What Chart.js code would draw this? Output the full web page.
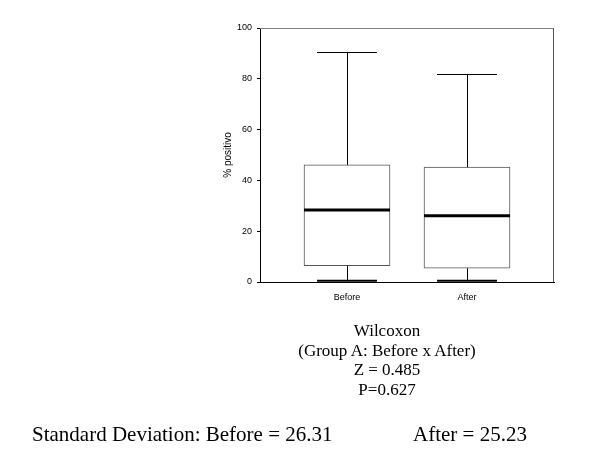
<!DOCTYPE html>
<html>
<head>
<meta charset="utf-8">
<script src="https://cdn.jsdelivr.net/npm/chart.js@4/dist/chart.umd.min.js"></script>
<style>
    body { margin: 0; background: #fff; }
    #wrap { position: relative; width: 600px; height: 465px; }
    .note { position: absolute; font-family: "Liberation Serif", "Times New Roman", serif; color: #000; white-space: pre; }
    #wilcoxon { left: 287px; top: 321px; width: 200px; text-align: center; font-size: 17px; line-height: 19.5px; }
    .sd { top: 424px; font-size: 21px; line-height: 21px; }
</style>
</head>
<body>
<div id="wrap">
    <canvas id="boxChart"></canvas>
    <div id="wilcoxon" class="note">Wilcoxon
(Group A: Before x After)
Z = 0.485
P=0.627</div>
    <div class="note sd" style="left:32px">Standard Deviation: Before = 26.31</div>
    <div class="note sd" style="left:413px">After = 25.23</div>
</div>
<script>
const categories = ['Before', 'After'];
const whiskerLow = [0.5, 0.5];
const quartile1 = [6.4, 5.4];
const medians = [28.3, 26.1];
const quartile3 = [46.1, 45.2];
const whiskerHigh = [90.6, 81.9];
const yTicks = [0, 20, 40, 60, 80, 100];

// draws median, whiskers, caps and the grey frame
const boxExtras = {
    id: 'boxExtras',
    afterDatasetsDraw(chart) {
        const { ctx, chartArea, scales: { x, y } } = chart;
        const bars = chart.getDatasetMeta(0).data;
        ctx.save();
        ctx.strokeStyle = '#000';
        categories.forEach((c, i) => {
            const cx = Math.round(x.getPixelForValue(i + 1)) + 0.5;
            const capL = x.getPixelForValue(i + 1 - 0.25);
            const capR = x.getPixelForValue(i + 1 + 0.25);
            ctx.lineWidth = 1;
            ctx.beginPath();
            ctx.moveTo(cx, y.getPixelForValue(quartile3[i]));
            ctx.lineTo(cx, y.getPixelForValue(whiskerHigh[i]));
            ctx.moveTo(cx, y.getPixelForValue(quartile1[i]));
            ctx.lineTo(cx, y.getPixelForValue(whiskerLow[i]));
            ctx.stroke();
            ctx.beginPath();
            ctx.moveTo(capL, Math.round(y.getPixelForValue(whiskerHigh[i])) + 0.5);
            ctx.lineTo(capR, Math.round(y.getPixelForValue(whiskerHigh[i])) + 0.5);
            ctx.stroke();
            ctx.lineWidth = 2;
            ctx.beginPath();
            ctx.moveTo(capL, y.getPixelForValue(whiskerLow[i]));
            ctx.lineTo(capR, y.getPixelForValue(whiskerLow[i]));
            ctx.stroke();
            const bar = bars[i];
            ctx.lineWidth = 3;
            ctx.beginPath();
            ctx.moveTo(bar.x - bar.width / 2, y.getPixelForValue(medians[i]));
            ctx.lineTo(bar.x + bar.width / 2, y.getPixelForValue(medians[i]));
            ctx.stroke();
        });
        ctx.lineWidth = 1;
        ctx.strokeStyle = '#808080';
        ctx.beginPath();
        ctx.moveTo(chartArea.left, chartArea.top + 0.5);
        ctx.lineTo(chartArea.right, chartArea.top + 0.5);
        ctx.stroke();
        ctx.strokeStyle = '#555';
        ctx.beginPath();
        ctx.moveTo(chartArea.right - 0.5, chartArea.top);
        ctx.lineTo(chartArea.right - 0.5, chartArea.bottom);
        ctx.stroke();
        ctx.restore();
    }
};

const ctx = document.getElementById('boxChart').getContext('2d');
const boxChart = new Chart(ctx, {
    type: 'bar',
    data: {
        datasets: [{
            data: categories.map((c, i) => ({ x: i + 1, y: [quartile1[i], quartile3[i]] })),
            backgroundColor: '#fff',
            borderColor: '#555',
            borderWidth: 1,
            borderSkipped: false,
            barThickness: 86
        }]
    },
    options: {
        responsive: true,
        maintainAspectRatio: false,
        animation: false,
        layout: { padding: { left: 218, right: 46, top: 28, bottom: 153 } },
        plugins: { legend: { display: false }, tooltip: { enabled: false } },
        scales: {
            x: {
                type: 'linear',
                offset: false,
                min: 0.275,
                max: 2.725,
                afterBuildTicks: s => { s.ticks = categories.map((c, i) => ({ value: i + 1 })); },
                afterFit: s => { s.height = 30; },
                grid: { display: false },
                border: { color: '#000', width: 1 },
                ticks: {
                    callback: v => categories[v - 1],
                    font: { family: 'Liberation Sans', size: 9 },
                    color: '#000',
                    padding: 2,
                    maxRotation: 0
                }
            },
            y: {
                min: 0,
                max: 100,
                afterBuildTicks: s => { s.ticks = yTicks.map(v => ({ value: v })); },
                afterFit: s => { s.width = 42; },
                grid: { drawOnChartArea: false, drawTicks: true, tickLength: 3, tickColor: '#000' },
                border: { color: '#000', width: 1 },
                ticks: {
                    font: { family: 'Liberation Sans', size: 9 },
                    color: '#000',
                    padding: 5
                },
                title: {
                    display: true,
                    text: '% positivo',
                    font: { family: 'Liberation Sans', size: 10 },
                    color: '#000',
                    padding: { top: 4, bottom: 4 }
                }
            }
        }
    },
    plugins: [boxExtras]
});
</script>
</body>
</html>
